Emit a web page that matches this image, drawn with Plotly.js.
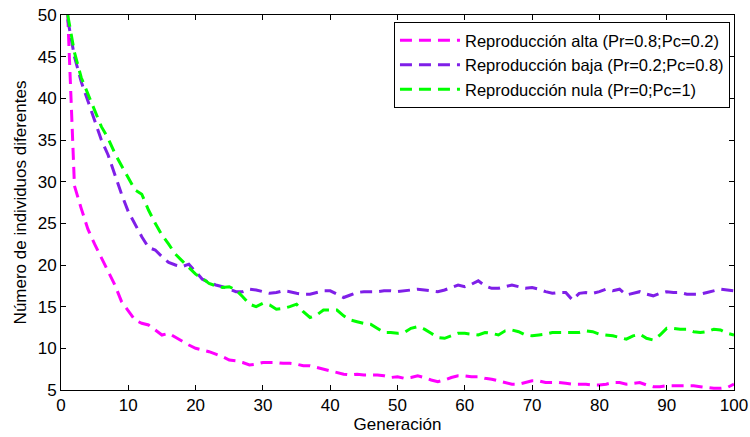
<!DOCTYPE html>
<html>
<head>
<meta charset="utf-8">
<script src="https://cdn.plot.ly/plotly-3.0.1.min.js"></script>
<style>html,body{margin:0;padding:0;background:#fff;}#chart{width:750px;height:437px;}</style>
</head>
<body>
<div id="chart"></div>
<script>
const generations = Array.from({length: 100}, (_, i) => i + 1);

const alta = [50, 29.5, 26.8, 24.3, 22.5, 20.8, 19.2, 17.6, 15.6, 14.5,
  13.4, 13.0, 12.8, 12.2, 11.6, 11.8, 11.3, 10.9, 10.4, 10.0,
  9.8, 9.6, 9.3, 9.0, 8.6, 8.5, 8.3, 8.0, 8.1, 8.3,
  8.3, 8.3, 8.2, 8.2, 8.1, 7.9, 7.9, 7.7, 7.5, 7.3,
  7.1, 6.9, 6.8, 6.9, 6.8, 6.8, 6.8, 6.7, 6.5, 6.6,
  6.4, 6.5, 6.7, 6.5, 6.2, 6.0, 6.2, 6.5, 6.7, 6.7,
  6.6, 6.6, 6.4, 6.3, 6.1, 5.9, 5.7, 5.7, 5.9, 6.1,
  6.1, 5.9, 5.9, 5.9, 5.8, 5.7, 5.7, 5.7, 5.6, 5.6,
  5.7, 5.9, 5.9, 5.7, 5.8, 5.9, 5.6, 5.4, 5.4, 5.5,
  5.5, 5.5, 5.5, 5.5, 5.4, 5.3, 5.2, 5.2, 5.3, 5.7];

const baja = [49.5, 45, 42, 39.7, 37.4, 35, 33.2, 30.8, 28.5, 26.4,
  24.8, 23.4, 22.1, 21.8, 21.0, 20.3, 20.0, 19.8, 20.1, 19.2,
  18.3, 17.9, 17.6, 17.4, 17.1, 16.8, 16.8, 17.1, 17.0, 16.8,
  16.6, 16.7, 16.9, 16.8, 16.6, 16.5, 16.5, 16.7, 16.9, 16.9,
  16.5, 16.1, 16.4, 16.7, 16.8, 16.8, 16.8, 16.9, 16.9, 16.8,
  16.9, 17.0, 17.1, 17.0, 16.9, 16.8, 17.0, 17.3, 17.6, 17.4,
  17.7, 18.1, 17.5, 17.2, 17.2, 17.4, 17.6, 17.4, 17.2, 17.3,
  17.1, 16.8, 16.6, 16.7, 16.7, 15.8, 16.6, 16.7, 16.6, 16.8,
  17.1, 16.9, 17.1, 16.4, 16.6, 16.8, 16.5, 16.3, 16.6, 16.8,
  16.7, 16.7, 16.5, 16.5, 16.5, 16.7, 16.9, 17.1, 17.0, 16.9];

const nula = [50, 45.5, 42.5, 40.5, 38.4, 36.6, 35.2, 33.4, 31.9, 30.4,
  29.0, 28.5, 26.6, 25.0, 23.6, 22.5, 21.3, 20.5, 19.7, 18.9,
  18.4, 17.8, 17.5, 17.3, 17.4, 17.0, 16.2, 15.3, 15.0, 15.4,
  15.2, 14.7, 14.8, 15.0, 15.3, 14.4, 13.7, 14.0, 14.6, 14.6,
  14.6, 13.9, 13.4, 13.2, 13.0, 12.9, 12.4, 11.9, 11.9, 11.8,
  11.9, 12.4, 12.6, 12.3, 11.8, 11.3, 11.2, 11.5, 11.8, 11.8,
  11.7, 11.6, 11.9, 11.8, 11.6, 12.1, 12.2, 12.0, 11.6, 11.5,
  11.6, 11.7, 11.9, 11.9, 11.9, 11.9, 11.9, 12.1, 12.0, 11.7,
  11.6, 11.5, 11.3, 11.1, 11.5, 11.7, 11.2, 11.0, 11.6, 12.4,
  12.4, 12.3, 12.3, 12.0, 11.9, 12.0, 12.3, 12.2, 11.8, 11.6];

const seriesNames = [
  'Reproducción alta (Pr=0.8;Pc=0.2)',
  'Reproducción baja (Pr=0.2;Pc=0.8)',
  'Reproducción nula (Pr=0;Pc=1)'
];
const seriesColors = ['#ff00ff', '#7f1fe8', '#00ff00'];
const seriesValues = [alta, baja, nula];

const xTicks = [0, 10, 20, 30, 40, 50, 60, 70, 80, 90, 100];
const yTicks = [5, 10, 15, 20, 25, 30, 35, 40, 45, 50];

const traces = seriesValues.map((vals, i) => ({
  x: generations,
  y: vals,
  type: 'scatter',
  mode: 'lines',
  name: seriesNames[i],
  line: {color: seriesColors[i], width: 3, dash: '12px,7px'}
}));

const fam = '"Liberation Sans", Arial, sans-serif';
const font = {family: fam, size: 17, color: '#000'};

const layout = {
  width: 750, height: 437,
  margin: {l: 61, r: 16, t: 15, b: 47},
  paper_bgcolor: '#fff', plot_bgcolor: '#fff',
  font: font,
  showlegend: true,
  legend: {
    x: 0.994, xanchor: 'right', y: 0.981, yanchor: 'top',
    bgcolor: '#fff', bordercolor: '#000', borderwidth: 1,
    font: {family: fam, size: 16.5, color: '#000'},
    itemwidth: 60, tracegroupgap: 0
  },
  xaxis: {
    range: [0, 100], tickvals: xTicks, ticktext: xTicks.map(String),
    ticks: 'inside', ticklen: 5, tickcolor: '#000', tickwidth: 1,
    showline: true, linecolor: '#000', linewidth: 1, mirror: 'ticks',
    showgrid: false, zeroline: false,
    title: {text: 'Generación', font: font, standoff: 2},
    tickfont: font
  },
  yaxis: {
    range: [5, 50], tickvals: yTicks, ticktext: yTicks.map(String),
    ticks: 'inside', ticklen: 5, tickcolor: '#000', tickwidth: 1,
    showline: true, linecolor: '#000', linewidth: 1, mirror: 'ticks',
    showgrid: false, zeroline: false,
    title: {text: 'Número de individuos diferentes', font: {family: fam, size: 17, color: '#000'}, standoff: 6},
    tickfont: font
  }
};

Plotly.newPlot('chart', traces, layout, {displayModeBar: false, staticPlot: true});
</script>
</body>
</html>
